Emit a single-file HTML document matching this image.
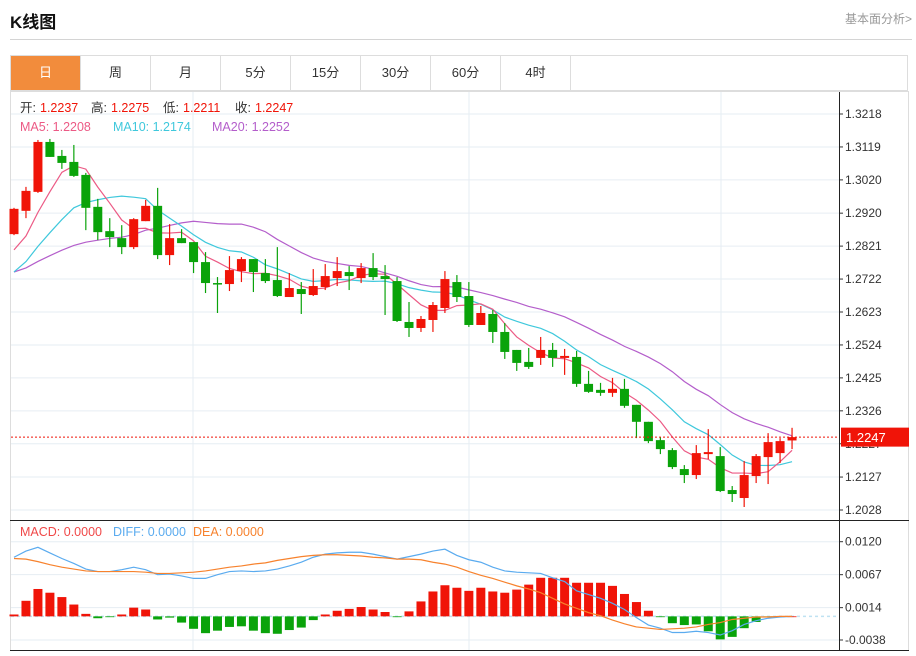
<!DOCTYPE html>
<html><head><meta charset="utf-8">
<style>
body{margin:0;background:#fff;font-family:"Liberation Sans","Noto Sans CJK SC",sans-serif;}
#wrap{position:relative;width:916px;height:656px;overflow:hidden;}
.title{position:absolute;left:10px;top:8px;font-size:17px;font-weight:bold;color:#111;}
.more{position:absolute;right:4px;top:10px;font-size:12px;color:#999;}
.hline{position:absolute;left:10px;right:4px;top:39px;height:1px;background:#d4d4d4;}
.tabs{position:absolute;left:10px;top:55px;width:898px;height:36px;border:1px solid #ddd;box-sizing:border-box;display:flex;}
.tab{width:70px;height:34px;line-height:34px;text-align:center;font-size:13px;color:#333;border-right:1px solid #ddd;box-sizing:border-box;}
.tab.on{background:#f28c3c;color:#fff;}
svg{position:absolute;left:0;top:0;}
</style></head><body>
<div id="wrap">
<div class="title">K线图</div>
<div class="more">基本面分析&gt;</div>
<div class="hline"></div>
<div class="tabs">
<div class="tab on">日</div>
<div class="tab">周</div>
<div class="tab">月</div>
<div class="tab">5分</div>
<div class="tab">15分</div>
<div class="tab">30分</div>
<div class="tab">60分</div>
<div class="tab">4时</div>
</div>
<svg id="chart" width="916" height="656"></svg>
</div>
<script>
const opens=[1.2857,1.2927,1.2984,1.3134,1.3092,1.3074,1.3035,1.2939,1.2866,1.2845,1.2818,1.2896,1.2942,1.2794,1.2845,1.2833,1.2773,1.2710,1.2707,1.2746,1.2782,1.2740,1.2719,1.2668,1.2692,1.2674,1.2698,1.2725,1.2743,1.2725,1.2755,1.2731,1.2716,1.2593,1.2575,1.2599,1.2635,1.2713,1.2671,1.2584,1.2617,1.2563,1.2509,1.2473,1.2485,1.2509,1.2485,1.2488,1.2407,1.2389,1.2380,1.2392,1.2344,1.2293,1.2238,1.2208,1.2151,1.2133,1.2196,1.2190,1.2088,1.2064,1.2130,1.2187,1.2199,1.2237];
const highs=[1.2936,1.2999,1.3140,1.3143,1.3110,1.3125,1.3041,1.2963,1.2905,1.2884,1.2905,1.2960,1.2996,1.2887,1.2872,1.2833,1.2803,1.2728,1.2791,1.2788,1.2782,1.2782,1.2818,1.2740,1.2713,1.2752,1.2767,1.2788,1.2761,1.2770,1.2800,1.2764,1.2728,1.2653,1.2611,1.2653,1.2746,1.2734,1.2713,1.2641,1.2629,1.2590,1.2509,1.2515,1.2548,1.2530,1.2512,1.2506,1.2446,1.2410,1.2425,1.2422,1.2344,1.2293,1.2247,1.2214,1.2163,1.2223,1.2271,1.2217,1.2100,1.2175,1.2196,1.2259,1.2244,1.2275];
const lows=[1.2854,1.2905,1.2981,1.3089,1.3053,1.3029,1.2869,1.2839,1.2818,1.2797,1.2812,1.2896,1.2782,1.2764,1.2830,1.2740,1.2680,1.2620,1.2686,1.2713,1.2683,1.2710,1.2668,1.2668,1.2617,1.2671,1.2689,1.2701,1.2689,1.2710,1.2719,1.2614,1.2593,1.2548,1.2563,1.2563,1.2620,1.2653,1.2578,1.2584,1.2530,1.2482,1.2446,1.2452,1.2464,1.2458,1.2434,1.2398,1.2380,1.2371,1.2368,1.2335,1.2244,1.2229,1.2196,1.2151,1.2109,1.2121,1.2181,1.2082,1.2052,1.2037,1.2109,1.2106,1.2169,1.2211];
const closes=[1.2933,1.2987,1.3134,1.3089,1.3071,1.3032,1.2936,1.2863,1.2848,1.2818,1.2902,1.2942,1.2794,1.2845,1.2830,1.2773,1.2710,1.2707,1.2749,1.2782,1.2743,1.2716,1.2671,1.2695,1.2677,1.2701,1.2731,1.2746,1.2731,1.2755,1.2728,1.2722,1.2596,1.2575,1.2602,1.2644,1.2722,1.2668,1.2584,1.2620,1.2563,1.2503,1.2470,1.2458,1.2509,1.2485,1.2491,1.2407,1.2383,1.2380,1.2392,1.2341,1.2293,1.2235,1.2211,1.2157,1.2133,1.2199,1.2202,1.2085,1.2076,1.2133,1.2190,1.2232,1.2235,1.2247];
const priorCloses=[1.2743,1.2743,1.2743,1.2743,1.2743,1.2743,1.2743,1.2743,1.2743,1.2743,1.2677,1.2677,1.2677,1.2677,1.2677,1.2779,1.2779,1.2779,1.2779];
const priceTicks=[1.3218,1.3119,1.3020,1.2920,1.2821,1.2722,1.2623,1.2524,1.2425,1.2326,1.2227,1.2127,1.2028];
const macdHist=[0.0003,0.0025,0.0044,0.0038,0.0031,0.0019,0.0004,-0.0003,-0.0001,0.0003,0.0014,0.0011,-0.0005,-0.0002,-0.0010,-0.0020,-0.0027,-0.0023,-0.0017,-0.0016,-0.0023,-0.0027,-0.0028,-0.0022,-0.0018,-0.0006,0.0003,0.0009,0.0012,0.0015,0.0011,0.0007,-0.0001,0.0008,0.0024,0.0040,0.0050,0.0046,0.0041,0.0046,0.0040,0.0038,0.0043,0.0051,0.0062,0.0062,0.0062,0.0054,0.0054,0.0054,0.0049,0.0036,0.0023,0.0009,-0.0001,-0.0011,-0.0014,-0.0013,-0.0024,-0.0037,-0.0033,-0.0019,-0.0009,-0.0001,0,0];
const difVals=[0.0095,0.0105,0.0111,0.0102,0.0093,0.0085,0.0076,0.0072,0.0072,0.0075,0.0079,0.0075,0.0067,0.0068,0.0065,0.0061,0.0061,0.0067,0.0072,0.0073,0.0072,0.0073,0.0076,0.0081,0.0087,0.0095,0.0100,0.0102,0.0103,0.0103,0.0100,0.0096,0.0092,0.0096,0.0100,0.0105,0.0108,0.0098,0.0091,0.0087,0.0079,0.0073,0.0071,0.0070,0.0069,0.0062,0.0056,0.0041,0.0035,0.0029,0.0021,0.0011,-0.0002,-0.0014,-0.0019,-0.0026,-0.0026,-0.0024,-0.0026,-0.0030,-0.0023,-0.0013,-0.0007,-0.0003,-0.0001,0];
const deaVals=[0.0093,0.0092,0.0088,0.0083,0.0079,0.0076,0.0073,0.0072,0.0072,0.0072,0.0072,0.0071,0.0069,0.0069,0.0070,0.0071,0.0073,0.0076,0.0079,0.0081,0.0084,0.0086,0.0090,0.0093,0.0096,0.0098,0.0099,0.0099,0.0098,0.0097,0.0095,0.0094,0.0092,0.0092,0.0091,0.0087,0.0084,0.0079,0.0072,0.0066,0.0061,0.0055,0.0049,0.0044,0.0038,0.0029,0.0020,0.0013,0.0006,0.0001,-0.0006,-0.0012,-0.0017,-0.0019,-0.0021,-0.0020,-0.0019,-0.0017,-0.0013,-0.0010,-0.0005,-0.0003,-0.0001,-0.0001,0,0];
const macdTicks=[0.0120,0.0067,0.0014,-0.0038];

const NS='http://www.w3.org/2000/svg';
const svg=document.getElementById('chart');
function mk(tag,attrs,parent){const e=document.createElementNS(NS,tag);for(const k in attrs)e.setAttribute(k,attrs[k]);(parent||svg).appendChild(e);return e;}
const RED='#f01408',GREEN='#0aa30a';
const X0=14,DX=11.97;
function xs(i){return X0+i*DX;}
function ys(p){return 114+(1.3218-p)*(396/0.1190);}
function ym(v){return 541.7+(0.0120-v)*(98.3/0.0158);}

// frame
let e;
e=mk('rect',{x:10.5,y:91.5,width:898,height:559,fill:'none',stroke:'#ddd'});


// grid
priceTicks.forEach(p=>{const y=ys(p);
 e=mk('line',{x1:11,x2:839,y1:y,y2:y,stroke:'#e6edf3'});
 
 
 e=mk('line',{x1:839,x2:843,y1:y,y2:y,stroke:'#333'});
 
 
 e=mk('text',{x:845,y:y+4,'font-size':12,fill:'#333'});e.textContent=p.toFixed(4);
 
 
});
macdTicks.forEach(v=>{const y=ym(v);
 e=mk('line',{x1:11,x2:839,y1:y,y2:y,stroke:'#e6edf3'});
 
 
 e=mk('line',{x1:839,x2:843,y1:y,y2:y,stroke:'#333'});
 
 
 e=mk('text',{x:845,y:y+4,'font-size':12,fill:'#333'});e.textContent=v.toFixed(4);
 
 
});
[193,469,721].forEach(x=>{
 e=mk('line',{x1:x,x2:x,y1:92,y2:650,stroke:'#e6edf3'});
 
 
});
e=mk('line',{x1:839.5,x2:839.5,y1:92,y2:650,stroke:'#222'});


e=mk('line',{x1:10,x2:909,y1:520.5,y2:520.5,stroke:'#222'});


e=mk('line',{x1:10,x2:909,y1:650.5,y2:650.5,stroke:'#222'});



// moving averages
const all=priorCloses.concat(closes),P=priorCloses.length;
function ma(n){return closes.map((c,i)=>{let s=0;for(let k=0;k<n;k++)s+=all[P+i-k];return s/n;});}
[[20,'#b45ecb','ma20-line'],[10,'#3fc8dc','ma10-line'],[5,'#ec5a85','ma5-line']].forEach(([n,col,name])=>{
 const v=ma(n);
 e=mk('polyline',{points:v.map((p,i)=>xs(i)+','+ys(p)).join(' '),fill:'none',stroke:col,'stroke-width':1.2});
 
 
});
// candles
closes.forEach((c,i)=>{
 const o=opens[i],up=c>=o,col=up?RED:GREEN,x=xs(i);
 const g=mk('g',{});
 
 
 mk('line',{x1:x,x2:x,y1:ys(highs[i]),y2:ys(lows[i]),stroke:col,'stroke-width':1.2},g);
 const t=ys(Math.max(o,c)),b=ys(Math.min(o,c));
 mk('rect',{x:x-4.5,y:t,width:9,height:Math.max(1.5,b-t),fill:col},g);
});
// last price line + tag
const last=closes[closes.length-1],yl=ys(last);
e=mk('line',{x1:11,x2:839,y1:yl,y2:yl,stroke:RED,'stroke-dasharray':'2,2'});


e=mk('rect',{x:841,y:yl-9.5,width:68,height:19,fill:RED});


e=mk('text',{x:846,y:yl+5,'font-size':13,fill:'#fff'});e.textContent=last.toFixed(4);



// MACD
const y0=ym(0);
e=mk('line',{x1:11,x2:839,y1:y0,y2:y0,stroke:'#bfe2f2','stroke-dasharray':'3,3','stroke-width':1.5});


macdHist.forEach((v,i)=>{const y=ym(v);
 e=mk('rect',{x:xs(i)-4.5,y:Math.min(y,y0),width:9,height:Math.max(0.8,Math.abs(y-y0)),fill:v>=0?RED:GREEN});
 
 
});
e=mk('polyline',{points:difVals.map((v,i)=>xs(i)+','+ym(v)).join(' '),fill:'none',stroke:'#5aabef','stroke-width':1.2});


e=mk('polyline',{points:deaVals.map((v,i)=>xs(i)+','+ym(v)).join(' '),fill:'none',stroke:'#f7822d','stroke-width':1.2});



// legends
function txt(x,y,s,col,name){e=mk('text',{x:x,y:y,'font-size':12.5,fill:col});e.textContent=s;
 
 }
txt(20,112,'开:','#333','open-label');txt(40,112,opens[opens.length-1].toFixed(4),RED,'open-value');
txt(91,112,'高:','#333','high-label');txt(111,112,highs[highs.length-1].toFixed(4),RED,'high-value');
txt(163,112,'低:','#333','low-label');txt(183,112,lows[lows.length-1].toFixed(4),RED,'low-value');
txt(235,112,'收:','#333','close-label');txt(255,112,last.toFixed(4),RED,'close-value');
txt(20,131,'MA5: 1.2208','#ec5a85','ma5-legend');
txt(113,131,'MA10: 1.2174','#3fc8dc','ma10-legend');
txt(212,131,'MA20: 1.2252','#b45ecb','ma20-legend');
txt(20,536,'MACD: 0.0000','#f04848','macd-legend');
txt(113,536,'DIFF: 0.0000','#5aabef','diff-legend');
txt(193,536,'DEA: 0.0000','#f7822d','dea-legend');
</script>
</body></html>
